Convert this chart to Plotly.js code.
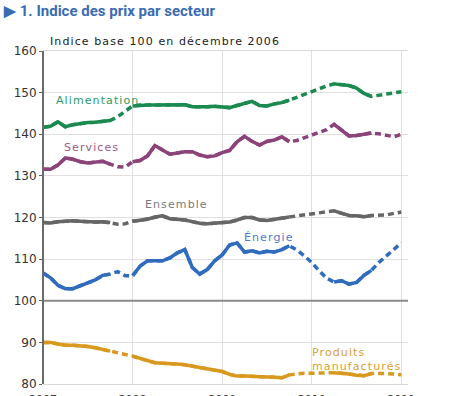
<!DOCTYPE html>
<html>
<head>
<meta charset="utf-8">
<script src="https://cdn.plot.ly/plotly-3.0.1.min.js"></script>
<style>
html,body{margin:0;padding:0;background:#fff;}
#chart{width:449px;height:396px;}
.annotation-text{letter-spacing:1.1px;}
</style>
</head>
<body>
<div id="chart"></div>
<script>
// Month index (gridlines every 12 months)
const months = Array.from({length: 49}, (_, i) => i);
const tickMonths = [0, 12, 24, 36, 48];
const tickLabels = ["2007", "2008", "2009", "2010", "2011"];
// Months drawn as dotted (estimated) segments
const estimatedMonths = [10, 11, 34, 35, 36, 37, 38, 45, 46, 47];

const alimentation = [141.7,141.9,143.0,141.8,142.3,142.6,142.8,142.9,143.0,143.3,
  144.2,145.5,146.8,147.0,147.0,147.0,147.0,146.9,147.0,147.1,
  146.6,146.5,146.6,146.7,146.6,146.4,146.9,147.4,147.9,146.9,
  146.8,147.3,147.6,148.2,148.9,149.5,150.2,150.9,151.6,152.1,
  151.9,151.7,151.1,149.8,149.1,149.4,149.7,150.0,150.2];
const services = [131.6,131.6,132.6,134.3,134.0,133.4,133.1,133.2,133.5,132.8,
  132.2,132.1,133.4,133.7,134.8,137.3,136.2,135.2,135.5,135.8,
  135.8,135.0,134.6,134.8,135.6,136.1,138.2,139.5,138.3,137.4,
  138.3,138.6,139.4,138.2,138.5,139.1,139.9,140.4,141.1,142.4,
  141.0,139.6,139.7,140.1,140.3,140.1,139.8,139.4,140.0];
const ensemble = [118.8,118.7,119.0,119.2,119.2,119.1,118.9,118.9,119.0,118.8,
  118.4,118.5,119.1,119.3,119.6,120.1,120.4,119.7,119.6,119.4,
  119.0,118.6,118.5,118.6,118.7,118.9,119.4,120.0,120.0,119.4,
  119.3,119.5,119.9,120.1,120.4,120.6,120.9,121.1,121.3,121.6,
  121.0,120.5,120.4,120.2,120.5,120.6,120.6,121.0,121.3];
const energie = [106.7,105.5,103.7,102.9,102.9,103.6,104.3,105.0,106.1,106.4,
  107.0,106.0,106.0,108.3,109.6,109.6,109.6,110.3,111.5,112.3,
  108.0,106.4,107.5,109.6,111.0,113.4,113.9,111.7,112.0,111.5,
  111.9,111.7,112.3,113.2,112.2,110.8,109.2,107.2,105.4,104.5,
  104.8,104.0,104.4,106.1,107.3,109.2,110.7,112.4,113.9];
const produits = [90.0,90.0,89.6,89.3,89.3,89.2,89.0,88.7,88.3,87.9,
  87.5,87.2,86.7,86.1,85.6,85.1,85.0,85.0,84.8,84.6,
  84.3,83.9,83.5,83.3,83.0,82.3,81.9,81.9,81.9,81.9,
  81.7,81.6,81.5,82.2,82.5,82.6,82.6,82.7,82.7,82.7,
  82.6,82.4,82.1,82.0,82.5,82.6,82.5,82.4,82.2];

const seriesNames = ["Alimentation", "Services", "Ensemble", "Énergie", "Produits manufacturés"];
const seriesValues = [alimentation, services, ensemble, energie, produits];
const seriesColors = ["#1b8a50", "#8b4379", "#666666", "#2f6cc0", "#d9981e"];
const labelColors = ["#2f9a63", "#9a5a8c", "#7a7a7a", "#4a7cc8", "#d9a035"];

const traces = [];
seriesValues.forEach((vals, k) => {
  traces.push({
    x: months, y: vals, type: "scatter", mode: "lines", name: seriesNames[k] + " (est.)",
    line: {color: seriesColors[k], width: 3.5, dash: "6px,4px"}, showlegend: false, hoverinfo: "skip"
  });
  traces.push({
    x: months, y: vals.map((v, i) => estimatedMonths.includes(months[i]) ? null : v),
    type: "scatter", mode: "lines", name: seriesNames[k],
    line: {color: seriesColors[k], width: 3.5}, connectgaps: false, showlegend: false, hoverinfo: "skip"
  });
});

const lblFont = (c) => ({family: "DejaVu Sans", size: 11, color: c});
const annotations = [
  {x: 1.5, y: 148.0, text: "Alimentation", font: lblFont(labelColors[0])},
  {x: 2.55, y: 136.9, text: "Services", font: lblFont(labelColors[1])},
  {x: 13.4, y: 123.2, text: "Ensemble", font: lblFont(labelColors[2])},
  {x: 26.7, y: 115.1, text: "Énergie", font: lblFont(labelColors[3])},
  {x: 35.8, y: 86.0, text: "Produits<br>manufacturés", font: lblFont(labelColors[4]), align: "left"}
].map(a => Object.assign({xref: "x", yref: "y", xanchor: "left", yanchor: "middle", showarrow: false}, a));
annotations.push({
  xref: "paper", yref: "paper", x: 0.014, y: 1.03, xanchor: "left", yanchor: "middle", showarrow: false,
  text: "Indice base 100 en décembre 2006", font: {family: "DejaVu Sans", size: 11, color: "#222"}
});

const layout = {
  width: 449, height: 396,
  margin: {l: 43, r: 41, t: 51, b: 12},
  paper_bgcolor: "#fff", plot_bgcolor: "#fff",
  title: {
    text: "<b>▶ 1. Indice des prix par secteur</b>",
    x: 4 / 449, xanchor: "left", xref: "container",
    y: 1 - 11 / 396, yanchor: "middle", yref: "container",
    font: {family: "Roboto, sans-serif", size: 15, color: "#3b6cb2"}
  },
  xaxis: {
    range: [0, 48.9], tickvals: tickMonths, ticktext: tickLabels,
    showgrid: true, gridcolor: "#e0e0e0", gridwidth: 1,
    zeroline: false, showline: true, linecolor: "#d8d8d8", linewidth: 1, mirror: true,
    ticks: "", ticklabelstandoff: 5,
    tickfont: {family: "DejaVu Sans", size: 11, color: "#333"}, fixedrange: true
  },
  yaxis: {
    range: [80, 160], dtick: 10, tick0: 80,
    showgrid: true, gridcolor: "#e0e0e0", gridwidth: 1,
    zeroline: false, showline: false,
    ticks: "outside", ticklen: 3, tickcolor: "#666",
    tickfont: {family: "DejaVu Sans", size: 12, color: "#333"}, fixedrange: true
  },
  shapes: [
    {type: "line", xref: "paper", yref: "y", x0: 0, x1: 1, y0: 100, y1: 100, line: {color: "#8a8a8a", width: 2}},
    {type: "line", xref: "paper", yref: "paper", x0: 0, x1: 0, y0: 0, y1: 1, line: {color: "#6a6a6a", width: 2}}
  ],
  annotations: annotations,
  showlegend: false
};

Plotly.newPlot("chart", traces, layout, {staticPlot: true, displayModeBar: false});
</script>
</body>
</html>
